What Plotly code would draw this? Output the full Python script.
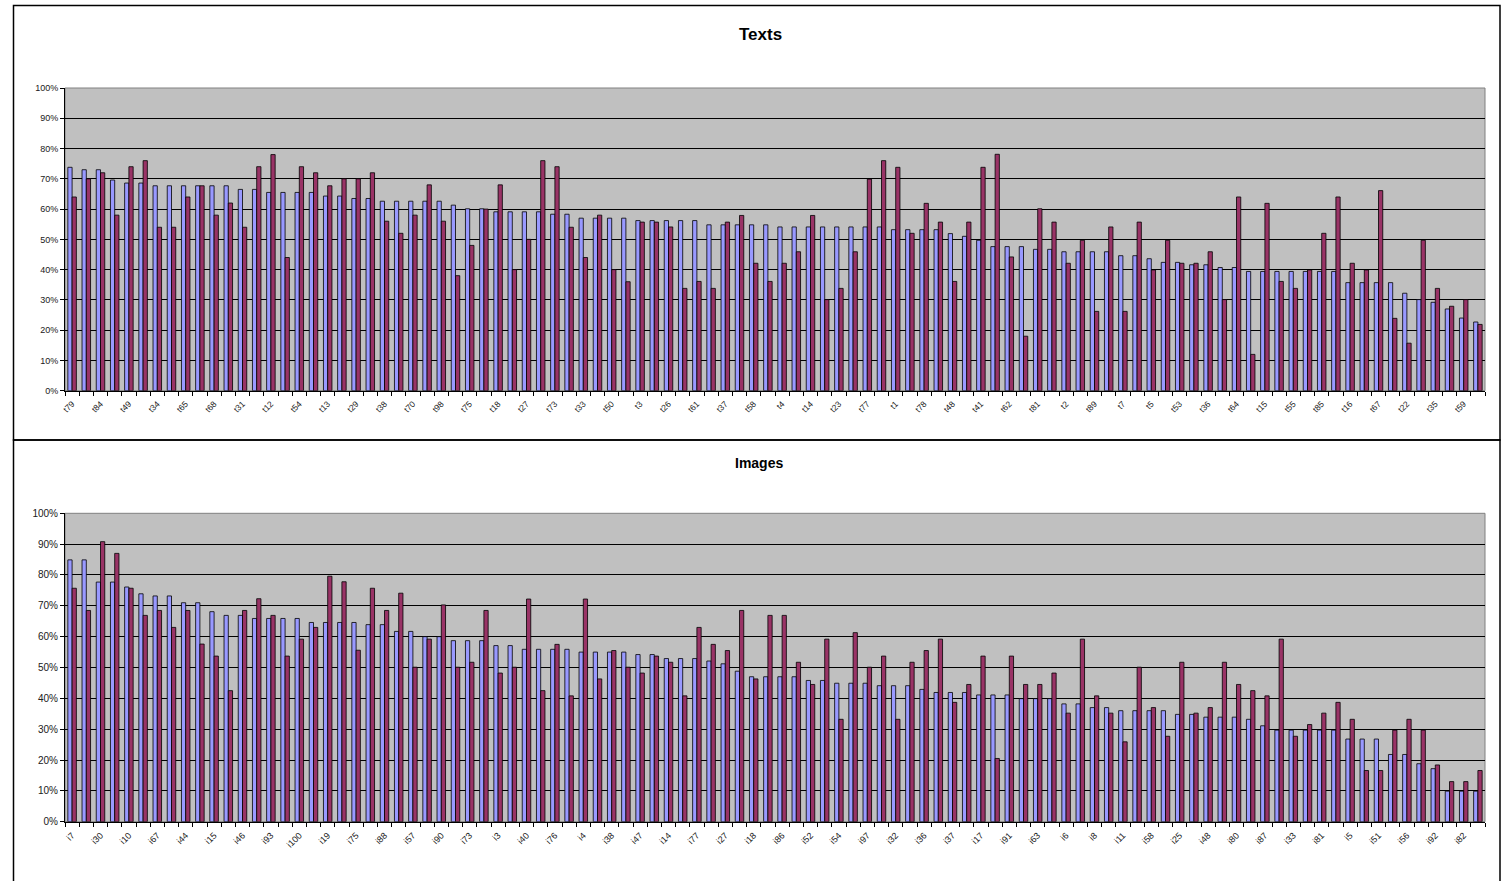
import plotly.graph_objects as go

# ---------------- Texts chart data ----------------
texts_labels = ["t79", "t84", "t49", "t34", "t65", "t68", "t31", "t12", "t54", "t13",
                "t29", "t38", "t70", "t98", "t75", "t18", "t27", "t73", "t33", "t50",
                "t3", "t26", "t61", "t37", "t58", "t4", "t14", "t23", "t77", "t1",
                "t78", "t48", "t41", "t62", "t81", "t2", "t89", "t7", "t5", "t53",
                "t36", "t64", "t15", "t55", "t85", "t16", "t67", "t22", "t35", "t59"]
texts_unlabeled = ["t6", "t8", "t9", "t10", "t11", "t17", "t19", "t20", "t21", "t24",
                   "t25", "t28", "t30", "t32", "t39", "t40", "t42", "t43", "t44", "t45",
                   "t46", "t47", "t51", "t52", "t56", "t57", "t60", "t63", "t66", "t69",
                   "t71", "t72", "t74", "t76", "t80", "t82", "t83", "t86", "t87", "t88",
                   "t90", "t91", "t92", "t93", "t94", "t95", "t96", "t97", "t99", "t100"]
texts_blue = [73.8, 73.0, 73.0, 69.6, 68.6, 68.6, 67.7, 67.7, 67.7, 67.7,
              67.7, 67.7, 66.5, 66.5, 65.5, 65.5, 65.5, 65.5, 64.3, 64.3,
              63.5, 63.5, 62.6, 62.6, 62.6, 62.6, 62.6, 61.3, 60.1, 60.1,
              59.1, 59.1, 59.1, 59.1, 58.3, 58.3, 57.0, 57.0, 57.0, 57.0,
              56.2, 56.2, 56.2, 56.2, 56.2, 54.8, 54.8, 54.8, 54.8, 54.8,
              54.1, 54.1, 54.1, 54.1, 54.1, 54.1, 54.1, 54.1, 53.2, 53.2,
              53.2, 53.2, 51.9, 51.0, 49.7, 47.6, 47.6, 47.6, 46.7, 46.7,
              45.9, 45.9, 45.9, 45.9, 44.6, 44.6, 43.6, 42.4, 42.4, 41.6,
              41.6, 40.7, 40.7, 39.4, 39.4, 39.4, 39.4, 39.4, 39.4, 39.4,
              35.7, 35.7, 35.7, 35.7, 32.2, 30.1, 29.2, 27.0, 24.0, 22.7]
texts_red = [64.0, 70.0, 72.0, 58.0, 74.0, 76.0, 54.0, 54.0, 64.0, 67.7,
             58.0, 62.0, 54.0, 74.0, 78.0, 44.0, 74.0, 72.0, 67.7, 70.0,
             70.0, 72.0, 56.0, 52.0, 58.0, 68.0, 56.0, 38.0, 48.0, 60.0,
             68.0, 40.0, 50.0, 76.0, 74.0, 54.0, 44.0, 58.0, 40.0, 36.0,
             55.7, 55.7, 54.1, 33.8, 36.1, 33.8, 55.7, 57.9, 42.1, 36.1,
             42.1, 45.9, 57.9, 30.1, 33.8, 45.9, 69.9, 76.0, 73.8, 52.0,
             61.9, 55.7, 36.1, 55.7, 73.8, 78.1, 44.2, 18.0, 60.1, 55.7,
             42.1, 49.7, 26.2, 54.1, 26.2, 55.7, 39.9, 49.7, 42.1, 42.1,
             45.9, 30.1, 64.0, 12.0, 61.9, 36.1, 33.8, 39.9, 52.0, 64.0,
             42.1, 39.9, 66.1, 23.9, 15.7, 49.7, 33.8, 27.9, 30.1, 21.9]

# ---------------- Images chart data ----------------
images_labels = ["i7", "i30", "i10", "i67", "i44", "i15", "i46", "i93", "i100", "i19",
                 "i75", "i88", "i57", "i90", "i73", "i3", "i40", "i76", "i4", "i38",
                 "i47", "i14", "i77", "i27", "i18", "i86", "i52", "i54", "i97", "i32",
                 "i36", "i37", "i17", "i91", "i63", "i6", "i8", "i11", "i58", "i25",
                 "i48", "i80", "i87", "i33", "i81", "i5", "i51", "i56", "i92", "i82"]
images_unlabeled = ["i1", "i2", "i9", "i12", "i13", "i16", "i20", "i21", "i22", "i23",
                    "i24", "i26", "i28", "i29", "i31", "i34", "i35", "i39", "i41", "i42",
                    "i43", "i45", "i49", "i50", "i53", "i55", "i59", "i60", "i61", "i62",
                    "i64", "i65", "i66", "i68", "i69", "i70", "i71", "i72", "i74", "i78",
                    "i79", "i83", "i84", "i85", "i89", "i94", "i95", "i96", "i98", "i99"]
images_blue = [84.9, 84.9, 77.7, 77.7, 76.1, 73.9, 73.2, 73.2, 71.0, 71.0,
               68.1, 66.9, 66.9, 65.9, 65.9, 65.9, 65.9, 64.6, 64.6, 64.6,
               64.6, 63.9, 63.9, 61.7, 61.7, 60.0, 60.0, 58.7, 58.7, 58.7,
               57.1, 57.1, 55.9, 55.9, 55.9, 55.9, 55.0, 55.0, 55.0, 55.0,
               54.2, 54.2, 52.9, 52.9, 52.9, 52.1, 51.2, 48.8, 47.0, 47.0,
               47.0, 47.0, 45.8, 45.8, 44.9, 44.9, 44.9, 44.1, 44.1, 44.1,
               42.9, 41.9, 41.9, 41.9, 41.1, 41.1, 41.1, 39.9, 39.9, 39.9,
               38.2, 38.2, 37.0, 37.0, 36.0, 36.0, 36.0, 36.0, 34.8, 34.8,
               33.9, 33.9, 33.9, 33.2, 31.1, 29.7, 29.7, 29.7, 29.7, 29.7,
               26.8, 26.8, 26.8, 21.8, 21.8, 18.8, 17.2, 9.9, 9.9, 9.9]
images_red = [75.7, 68.5, 90.8, 87.0, 75.7, 66.9, 68.5, 63.0, 68.5, 57.6,
              53.7, 42.5, 68.5, 72.3, 66.9, 53.7, 59.2, 63.0, 79.6, 77.8,
              55.6, 75.7, 68.5, 74.1, 50.1, 59.2, 70.3, 50.1, 51.7, 68.5,
              48.2, 50.1, 72.2, 42.5, 57.5, 40.8, 72.2, 46.3, 55.5, 50.1,
              48.2, 53.7, 51.7, 40.8, 63.0, 57.5, 55.5, 68.5, 46.3, 66.9,
              66.9, 51.7, 44.5, 59.2, 33.2, 61.3, 50.1, 53.7, 33.2, 51.7,
              55.5, 59.2, 38.7, 44.5, 53.7, 20.5, 53.7, 44.5, 44.5, 48.2,
              35.2, 59.2, 40.8, 35.2, 25.9, 50.1, 37.0, 27.7, 51.7, 35.2,
              37.0, 51.7, 44.5, 42.5, 40.8, 59.2, 27.7, 31.5, 35.2, 38.7,
              33.2, 16.6, 16.6, 29.7, 33.2, 29.7, 18.4, 13.0, 13.0, 16.6]


def interleave(labeled, unlabeled):
    out = []
    for a, b in zip(labeled, unlabeled):
        out += [a, b]
    return out


texts_cats = interleave(texts_labels, texts_unlabeled)
images_cats = interleave(images_labels, images_unlabeled)

W, H = 1505, 881


def py(p):  # pixel y (from top) -> paper y
    return 1 - p / H


def px(p):
    return p / W


BLUE = "#9999FF"
RED = "#993366"
FONT = "Arial, Liberation Sans, sans-serif"

fig = go.Figure()
fig.add_trace(go.Bar(x=texts_cats, y=[v / 100 for v in texts_blue], marker=dict(color=BLUE, line=dict(color="black", width=0.8)),
                     xaxis="x", yaxis="y", showlegend=False))
fig.add_trace(go.Bar(x=texts_cats, y=[v / 100 for v in texts_red], marker=dict(color=RED, line=dict(color="black", width=0.8)),
                     xaxis="x", yaxis="y", showlegend=False))
fig.add_trace(go.Bar(x=images_cats, y=[v / 100 for v in images_blue], marker=dict(color=BLUE, line=dict(color="black", width=0.8)),
                     xaxis="x2", yaxis="y2", showlegend=False))
fig.add_trace(go.Bar(x=images_cats, y=[v / 100 for v in images_red], marker=dict(color=RED, line=dict(color="black", width=0.8)),
                     xaxis="x2", yaxis="y2", showlegend=False))


def xaxis_def(cats, labels, anchor, size):
    text = [c if c in labels else "" for c in cats]
    return dict(type="category", domain=[px(65), px(1485)], anchor=anchor,
                categoryorder="array", categoryarray=cats,
                tickmode="array", tickvals=cats, ticktext=text,
                tickangle=-45, tickson="boundaries", ticks="outside", ticklen=4,
                ticklabelstandoff=4,
                tickcolor="black", tickwidth=1, showgrid=False, automargin=False,
                showline=True, linecolor="black", linewidth=1,
                tickfont=dict(family=FONT, size=size, color="#202020"),
                range=[-0.5, len(cats) - 0.5], fixedrange=True)


def yaxis_def(dom, anchor, size):
    return dict(domain=dom, anchor=anchor, range=[0, 1], dtick=0.1, tick0=0,
                tickformat=".0%", ticks="outside", ticklen=4, tickcolor="black",
                showgrid=True, gridcolor="black", gridwidth=1, automargin=False,
                showline=True, linecolor="black", linewidth=1, zeroline=False,
                tickfont=dict(family=FONT, size=size, color="#202020"), fixedrange=True)


fig.update_layout(
    template="none",
    width=W, height=H, autosize=False, margin=dict(l=0, r=0, t=0, b=0, pad=0, autoexpand=False),
    paper_bgcolor="white", plot_bgcolor="#C0C0C0",
    barmode="group", bargap=0.4, bargroupgap=0.0,
    font=dict(family=FONT, color="black"),
    xaxis=xaxis_def(texts_cats, texts_labels, "y", 8.5),
    yaxis=yaxis_def([py(390.7), py(88)], "x", 9),
    xaxis2=xaxis_def(images_cats, images_labels, "y2", 9),
    yaxis2=yaxis_def([py(821.7), py(513.3)], "x2", 10),
    annotations=[
        dict(text="<b>Texts</b>", x=px(760), y=py(34), xref="paper", yref="paper",
             showarrow=False, font=dict(family=FONT, size=17, color="black"), xanchor="center", yanchor="middle"),
        dict(text="<b>Images</b>", x=px(759), y=py(463), xref="paper", yref="paper",
             showarrow=False, font=dict(family=FONT, size=14, color="black"), xanchor="center", yanchor="middle"),
    ],
    shapes=[
        # chart frames
        dict(type="rect", xref="paper", yref="paper", x0=px(13.5), x1=px(1500), y0=py(440), y1=py(5.5),
             line=dict(color="black", width=1.5), layer="above"),
        dict(type="rect", xref="paper", yref="paper", x0=px(13.5), x1=px(1500), y0=py(885), y1=py(440),
             line=dict(color="black", width=1.5), layer="above"),
        # plot area borders (grey)
        dict(type="rect", xref="paper", yref="paper", x0=px(65), x1=px(1485), y0=py(390.7), y1=py(88),
             line=dict(color="#808080", width=1), layer="below"),
        dict(type="rect", xref="paper", yref="paper", x0=px(65), x1=px(1485), y0=py(821.7), y1=py(513.3),
             line=dict(color="#808080", width=1), layer="below"),
    ],
)

fig.write_html("out.html", config=dict(displayModeBar=False, responsive=False),
               post_script="document.body.style.margin='0';document.body.style.overflow='hidden';")
